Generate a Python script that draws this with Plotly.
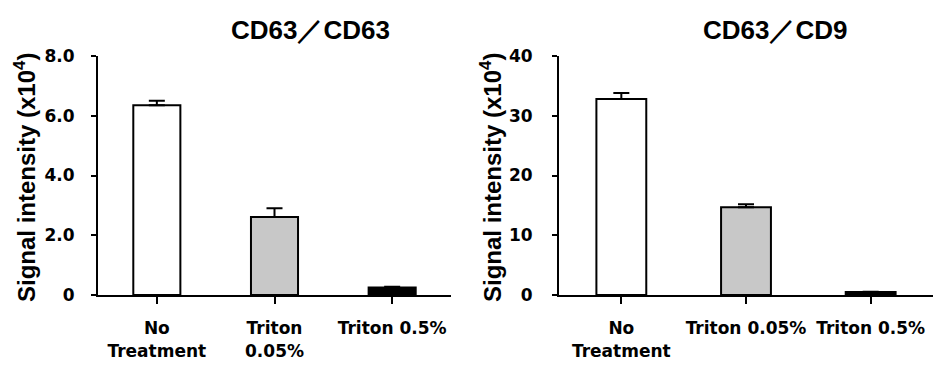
import plotly.graph_objects as go

categories_left = ["No<br>Treatment", "Triton<br>0.05%", "Triton 0.5%"]
categories_right = ["No<br>Treatment", "Triton 0.05%", "Triton 0.5%"]
left_values = [6.35, 2.61, 0.25]
left_errors = [0.15, 0.29, 0.03]
right_values = [32.8, 14.7, 0.5]
right_errors = [1.0, 0.5, 0.05]
bar_colors = ["#ffffff", "#c8c8c8", "#000000"]
left_ticks = [0, 2, 4, 6, 8]
left_ticktext = ["0", "2.0", "4.0", "6.0", "8.0"]
right_ticks = [0, 10, 20, 30, 40]
right_ticktext = ["0", "10", "20", "30", "40"]
titles = ["CD63／CD63", "CD63／CD9"]
ytitle = "Signal intensity (x10<sup>4</sup>)"

W, H = 933, 365
fig = go.Figure()

tick_font = dict(family="DejaVu Sans", size=17, color="black", weight="bold")

for i, (cats, vals, errs) in enumerate([(categories_left, left_values, left_errors),
                                         (categories_right, right_values, right_errors)]):
    xa = "x" if i == 0 else "x2"
    ya = "y" if i == 0 else "y2"
    fig.add_trace(go.Bar(
        x=list(range(3)), y=vals, width=0.4,
        marker=dict(color=bar_colors, line=dict(color="black", width=2)),
        error_y=dict(type="data", array=errs, arrayminus=[0, 0, 0], symmetric=False,
                     color="black", thickness=2, width=8),
        xaxis=xa, yaxis=ya, showlegend=False,
    ))

ydom = [1 - 295 / H, 1 - 56 / H]
common_x = dict(showline=True, linecolor="black", linewidth=2, ticks="outside",
                ticklen=7, tickwidth=2, tickcolor="black", showgrid=False,
                zeroline=False, tickfont=tick_font, range=[-0.5, 2.5],
                tickmode="array", ticklabelstandoff=10, automargin=False)
common_y = dict(showline=True, linecolor="black", linewidth=2, ticks="outside",
                ticklen=5, tickwidth=2, tickcolor="black", showgrid=False,
                zeroline=False, tickfont=tick_font, tickmode="array", automargin=False)

fig.update_layout(
    template="none",
    width=W, height=H,
    margin=dict(l=0, r=0, t=0, b=0, pad=0),
    paper_bgcolor="white", plot_bgcolor="white",
    bargap=0.6,
    xaxis=dict(domain=[98 / W, 451 / W], anchor="y",
               tickvals=[0, 1, 2], ticktext=categories_left, **common_x),
    yaxis=dict(domain=ydom, anchor="x", range=[0, 8], ticklabelstandoff=13,
               tickvals=left_ticks, ticktext=left_ticktext, **common_y),
    xaxis2=dict(domain=[559 / W, 1.0], anchor="y2",
                tickvals=[0, 1, 2], ticktext=categories_right, **common_x),
    yaxis2=dict(domain=ydom, anchor="x2", range=[0, 40], ticklabelstandoff=16,
                tickvals=right_ticks, ticktext=right_ticktext, **common_y),
)
fig.update_xaxes(tickson="boundaries")

title_font = dict(family="Liberation Sans", size=26, color="black", weight="bold")
ytitle_font = dict(family="Liberation Sans", size=24, color="black", weight="bold")
fig.add_annotation(text=titles[0], x=310 / W, y=1 - 30 / H, xref="paper", yref="paper",
                   showarrow=False, font=title_font, xanchor="center", yanchor="middle")
fig.add_annotation(text=titles[1], x=775 / W, y=1 - 30 / H, xref="paper", yref="paper",
                   showarrow=False, font=title_font, xanchor="center", yanchor="middle")
for xc in [25, 491]:
    fig.add_annotation(text=ytitle, x=xc / W, y=1 - 178 / H, xref="paper", yref="paper",
                       showarrow=False, font=ytitle_font, textangle=-90,
                       xanchor="center", yanchor="middle")

fig.write_html("out.html", config={"displayModeBar": False},
               post_script="document.body.style.margin='0';")
